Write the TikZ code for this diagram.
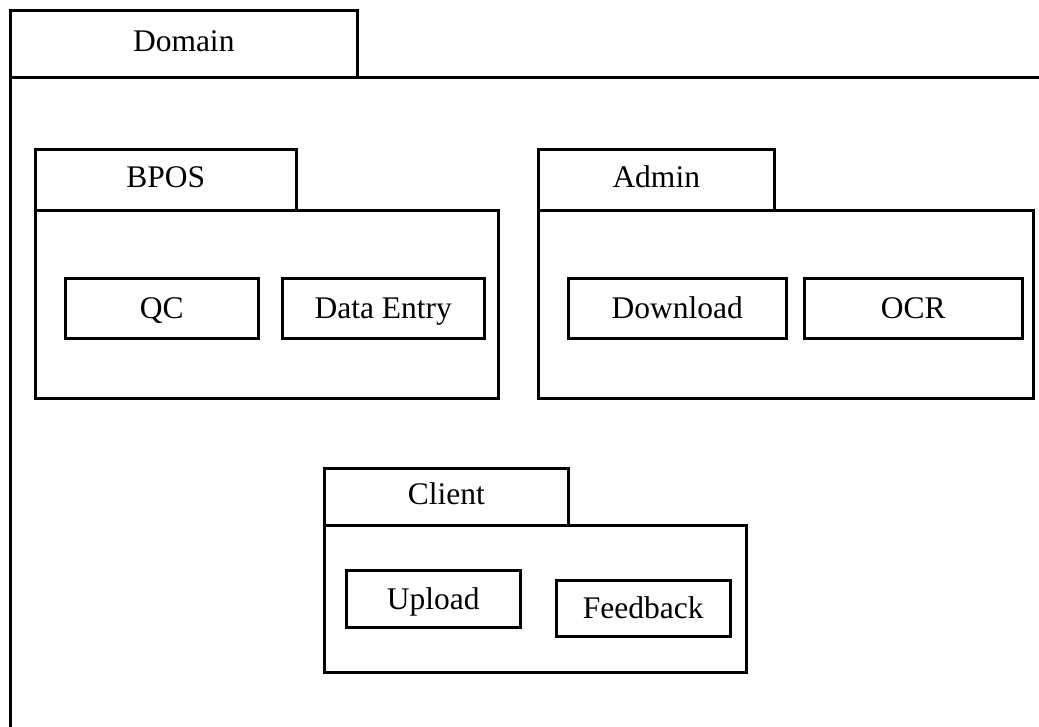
\documentclass[tikz,border=0pt]{standalone}
\usepackage{fontspec}
\setmainfont{Liberation Serif}
\usepackage{tikz}
\usetikzlibrary{positioning}

\begin{document}
\begin{tikzpicture}[
  x=1pt, y=-1pt,
  every node/.style={font=\fontsize{31.5}{36}\selectfont},
  pkgtab/.style={
    rectangle, draw=black, line width=2.5pt, anchor=north west,
    inner sep=0pt, align=center, text height=22pt, text depth=7pt
  },
  pkgbody/.style={
    rectangle, draw=black, line width=2.5pt, anchor=north west,
    inner sep=0pt
  },
  item/.style={
    rectangle, draw=black, line width=2.5pt, anchor=north west,
    inner sep=0pt, align=center, text height=26pt, text depth=5pt
  }
]
\path[use as bounding box] (0,0) rectangle (1039,726);
\clip (0,0) rectangle (1039,726);

% --- Domain (outer package) ---
\node[pkgtab, minimum width=347pt, minimum height=67pt] (domtab) at (9,9) {Domain};
\node[pkgbody, minimum width=1100pt, minimum height=700pt] (dombody) at (9,76) {};

% --- BPOS ---
\node[pkgtab, minimum width=261pt, minimum height=61pt] (bpostab) at (34,148) {BPOS};
\node[pkgbody, minimum width=463pt, minimum height=188pt] (bposbody) at (34,209) {};
\node[item, minimum width=193pt, minimum height=60pt] (qc) at (64,277) {QC};
\node[item, minimum width=202pt, minimum height=60pt] (dataentry) at (281,277) {Data Entry};

% --- Admin ---
\node[pkgtab, minimum width=236pt, minimum height=61pt] (admintab) at (537,148) {Admin};
\node[pkgbody, minimum width=495pt, minimum height=188pt] (adminbody) at (537,209) {};
\node[item, minimum width=218pt, minimum height=60pt] (download) at (567,277) {Download};
\node[item, minimum width=218pt, minimum height=60pt] (ocr) at (803,277) {OCR};

% --- Client ---
\node[pkgtab, minimum width=244pt, minimum height=57pt] (clienttab) at (323,467) {Client};
\node[pkgbody, minimum width=422pt, minimum height=147pt] (clientbody) at (323,524) {};
\node[item, minimum width=174pt, minimum height=57pt] (upload) at (345,569) {Upload};
\node[item, minimum width=174pt, minimum height=56pt] (feedback) at (555,579) {Feedback};

\end{tikzpicture}
\end{document}
